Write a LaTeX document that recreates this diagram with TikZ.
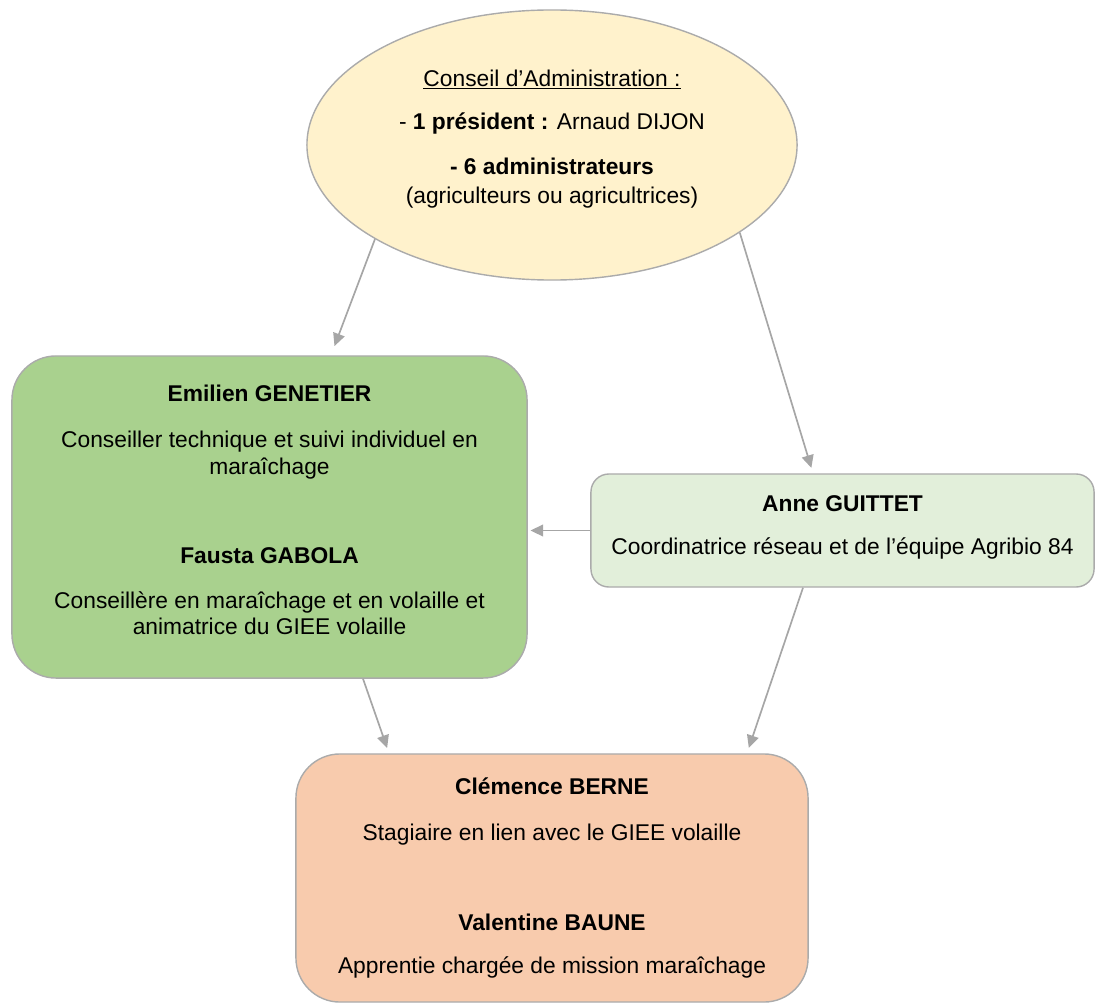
\documentclass[tikz,border=0pt]{standalone}
\usepackage{fontspec}
\setmainfont{Liberation Sans}
\usetikzlibrary{calc,arrows.meta,shapes.geometric}
\definecolor{danhuang}{HTML}{FFF2CC}
\definecolor{caolv}{HTML}{A9D18E}
\definecolor{qianlv}{HTML}{E2EFDA}
\definecolor{rouse}{HTML}{F8CBAD}
\definecolor{biankuang}{HTML}{ABABAB}
\definecolor{huise}{HTML}{A6A6A6}
\tikzset{ %框与箭头
    kuang/.style={draw=biankuang, line width=1pt, align=center, inner sep=0pt,
        font=\fontsize{16.2}{19.1}\selectfont},
    jiantou/.style={draw=huise, line width=1.2pt, -{Triangle[length=9pt,width=8.5pt]}, shorten >=4pt},
}

\begin{document}
\begin{tikzpicture}[x=0.025cm, y=-0.025cm]
    \useasboundingbox (0,0) rectangle (1096,1004);
    \node[kuang, ellipse, fill=danhuang, minimum width=12.25cm, minimum height=6.75cm, text depth=0.42cm] (ca) at (552,145)
        {\underline{Conseil d’Administration :}\\[0.425cm]
         - \textbf{1 président :} Arnaud DIJON\\[0.45cm]
         \textbf{- 6 administrateurs}\\[0.05cm]
         (agriculteurs ou agricultrices)};
    \node[kuang, rounded corners=1.1cm, fill=caolv, minimum width=12.875cm, minimum height=8.05cm, text depth=0.35cm] (eg) at (269.5,517)
        {\textbf{Emilien GENETIER}\\[0.475cm]
         Conseiller technique et suivi individuel en\\
         maraîchage\\[1.55cm]
         \textbf{Fausta GABOLA}\\[0.45cm]
         Conseillère en maraîchage et en volaille et\\
         animatrice du GIEE volaille};
    \node[kuang, rounded corners=0.45cm, fill=qianlv, minimum width=12.575cm, minimum height=2.825cm, text depth=0.27cm] (ag) at (842.5,530.5)
        {\textbf{Anne GUITTET}\\[0.425cm]
         Coordinatrice réseau et de l’équipe Agribio 84};
    \node[kuang, rounded corners=1.1cm, fill=rouse, minimum width=12.8cm, minimum height=6.2cm] (ob) at (552,878)
        {\textbf{Clémence BERNE}\\[0.475cm]
         Stagiaire en lien avec le GIEE volaille\\[1.575cm]
         \textbf{Valentine BAUNE}\\[0.4cm]
         Apprentie chargée de mission maraîchage};
    %\draw[help lines] (0,0) grid[step=50] (1096,1004);
    \draw[jiantou, shorten >=7pt] (ca.208) -- ($(eg.north)+(61.5,0)$);
    \draw[jiantou] (ca.-25) -- ($(ag.north)+(-29.5,0)$);
    \draw[jiantou, shorten >=2pt] (ag.west) -- (ag.west -| eg.east);
    \draw[jiantou] ($(ag.south)+(-39.5,0)$) -- ($(ob.north)+(195,0)$);
    \draw[jiantou] ($(eg.south)+(93.5,0)$) -- ($(ob.north)+(-163,0)$);
\end{tikzpicture}
\end{document}
